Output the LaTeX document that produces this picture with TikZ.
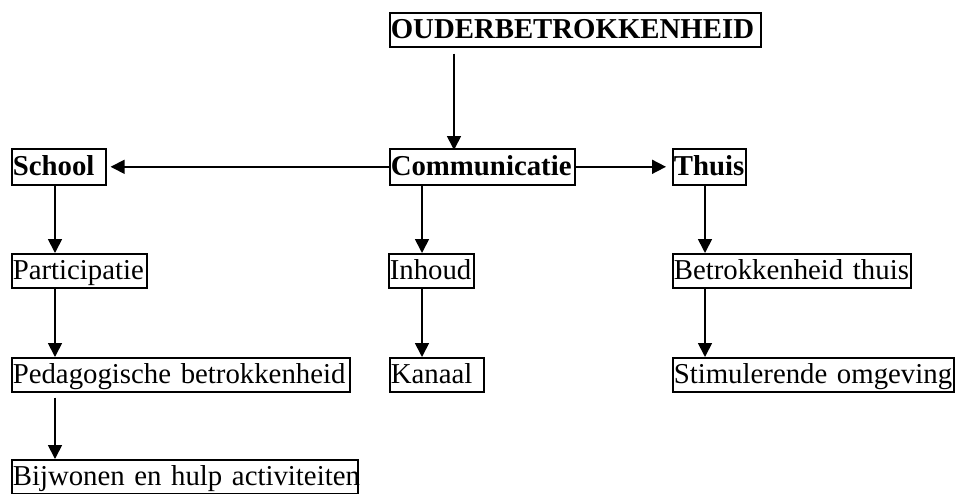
\documentclass[tikz,border=0pt]{standalone}
\usepackage{fontspec}
\setmainfont{Liberation Serif}
\usetikzlibrary{arrows.meta}
\newcommand{\boxtext}[1]{\makebox[0pt][l]{#1}}
\begin{document}
\begin{tikzpicture}[x=1pt,y=-1pt,
  box/.style={draw,line width=1.6pt,anchor=north west,inner xsep=1pt,inner ysep=0pt,
    font=\fontsize{28.8}{33}\selectfont,text height=26pt,text depth=8pt},
  head/.style={box,font=\fontsize{28.8}{33}\selectfont\bfseries,text height=27pt,text depth=9pt},
  arr/.style={line width=1.7pt,-{Triangle[length=14pt,width=14pt]}}]
\useasboundingbox (0,0) rectangle (955,493);
\node[box,text width=369pt,font=\fontsize{28.8}{33}\selectfont\bfseries] (ouder) at (389,12) {\boxtext{OUDERBETROKKENHEID}};
\node[head,text width=183pt] (comm) at (389,148) {\boxtext{Communicatie}};
\node[head,text width=92pt] (school) at (11,148) {\boxtext{School}};
\node[head,text width=71pt] (thuis) at (672,148) {\boxtext{Thuis}};
\node[box,text width=133pt] (partic) at (11,253) {\boxtext{Participatie}};
\node[box,text width=83pt] (inhoud) at (388,253) {\boxtext{Inhoud}};
\node[box,text width=236pt] (betr) at (672,253) {\boxtext{Betrokkenheid thuis}};
\node[box,text width=336pt] (pedag) at (11,357) {\boxtext{Pedagogische betrokkenheid}};
\node[box,text width=92pt] (kanaal) at (389,357) {\boxtext{Kanaal}};
\node[box,text width=279pt] (stim) at (672,357) {\boxtext{Stimulerende omgeving}};
\node[box,text width=344pt] (bijw) at (11,459) {\boxtext{Bijwonen en hulp activiteiten}};
\draw[arr] ([xshift=65pt,yshift=-6pt]ouder.south west) -- ([xshift=65pt,yshift=-2pt]comm.north west);
\draw[arr] (comm.west) -- ([xshift=4pt]school.east);
\draw[arr] (comm.east) -- ([xshift=-6pt]thuis.west);
\draw[arr] ([xshift=44pt]school.south west) -- ([xshift=44pt]partic.north west);
\draw[arr] ([xshift=44pt]partic.south west) -- ([xshift=44pt]pedag.north west);
\draw[arr] ([xshift=44pt,yshift=-5pt]pedag.south west) -- ([xshift=44pt]bijw.north west);
\draw[arr] ([xshift=33pt]comm.south west) -- ([xshift=34pt]inhoud.north west);
\draw[arr] ([xshift=34pt]inhoud.south west) -- ([xshift=33pt]kanaal.north west);
\draw[arr] ([xshift=33pt]thuis.south west) -- ([xshift=33pt]betr.north west);
\draw[arr] ([xshift=33pt]betr.south west) -- ([xshift=33pt]stim.north west);
\end{tikzpicture}
\end{document}
